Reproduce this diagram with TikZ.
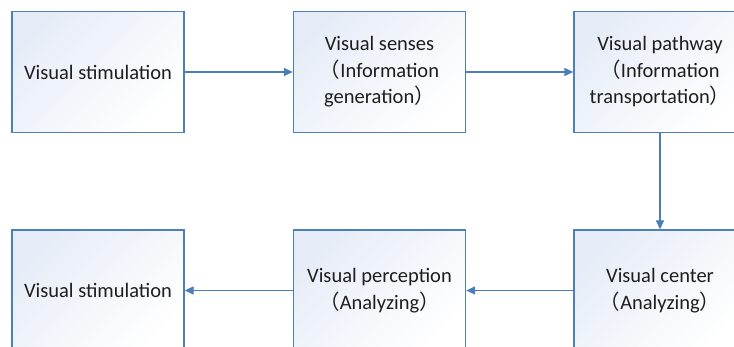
\documentclass[tikz,border=0pt]{standalone}
\usepackage{fontspec}
\setmainfont{Carlito}
\newfontfamily\cjk{Noto Sans CJK SC}
\usetikzlibrary{arrows.meta}
\definecolor{edgeblue}{HTML}{4F7FB8}
\definecolor{arrowblue}{HTML}{4A7DBA}
\definecolor{filltop}{HTML}{E6ECF7}
\definecolor{txt}{HTML}{1E1E1E}
\newcommand{\lp}{{\cjk （}}
\newcommand{\rp}{{\cjk ）}}
\tikzset{
  stagebox/.style={draw=edgeblue, line width=1.3pt, top color=filltop, bottom color=white, shading angle=45,
    minimum width=172pt, minimum height=121pt, inner sep=0pt, align=center, text=txt,
    font=\fontsize{20.5}{26.5}\selectfont},
  flow/.style={draw=arrowblue, line width=1.3pt, -{Triangle[width=8pt,length=9pt]}}
}
\begin{document}
\begin{tikzpicture}[x=1pt,y=-1pt]
\useasboundingbox (0,0) rectangle (734,347);
\clip (0,0) rectangle (734,347);
\node[stagebox] (s1) at (98,72) {Visual stimulation};
\node[stagebox] (s2) at (379.5,72) {Visual senses\\\lp Information\\generation\rp};
\node[stagebox] (s3) at (660,72) {Visual pathway\\\lp Information\\transportation\rp};
\node[stagebox] (s4) at (660,290.5) {Visual center\\\lp Analyzing\rp};
\node[stagebox] (s5) at (379.5,290.5) {Visual perception\\\lp Analyzing\rp};
\node[stagebox] (s6) at (98,290.5) {Visual stimulation};
\draw[flow] (s1) -- (s2);
\draw[flow] (s2) -- (s3);
\draw[flow] (s3) -- (s4);
\draw[flow] (s4) -- (s5);
\draw[flow] (s5) -- (s6);
\end{tikzpicture}
\end{document}
